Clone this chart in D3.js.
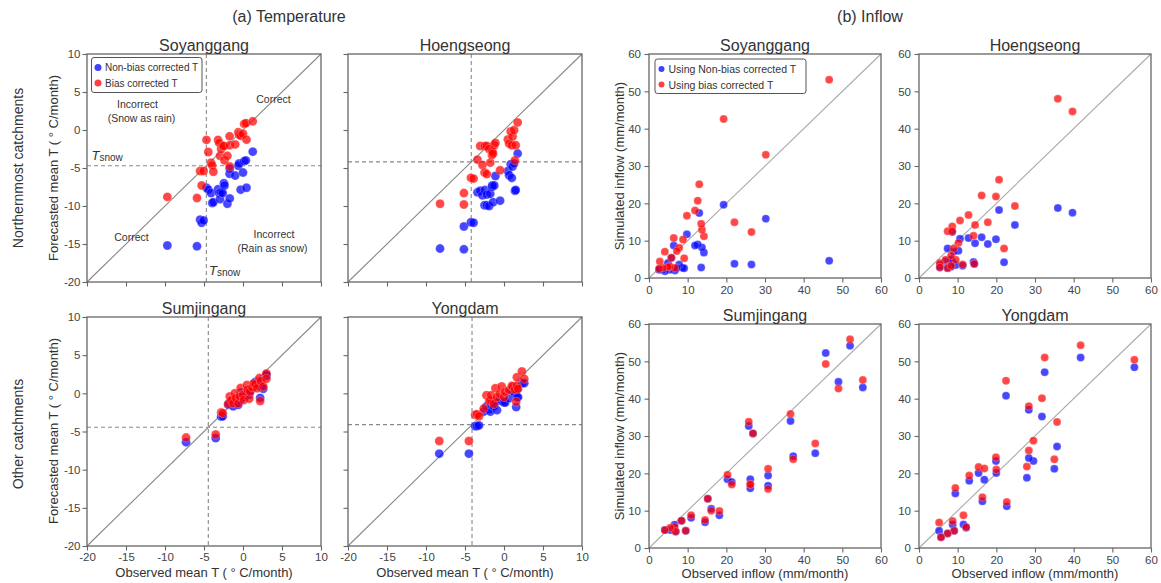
<!DOCTYPE html>
<html>
<head>
<meta charset="utf-8">
<script src="https://cdn.jsdelivr.net/npm/d3@7"></script>
<style>
  body { margin: 0; background: #fff; }
  svg text { font-family: "Liberation Sans", Arial, Helvetica, sans-serif; fill: #333; }
</style>
</head>
<body>
<svg id="fig" width="1161" height="583"></svg>
<script>
// ---- temperature data (observed, non-bias corrected, bias corrected) ----
var soyTObs = [-9.7,-5.9,-5.5,-5.3,-5.05,-4.68,-4.45,-4.1,-3.95,-3.8,-3.2,-3.05,-2.95,-2.8,-2.6,-2.45,-2.37,-2.0,-1.72,-1.7,-1.7,-1.0,-0.6,-0.5,-0.3,0.0,0.15,0.37,0.45,1.25];
var soyTRaw = [-15.2,-15.3,-11.8,-12.2,-11.9,-7.6,-7.85,-8.3,-9.6,-9.5,-7.8,-8.3,-9.1,-8.2,-8.3,-7.0,-7.3,-9.7,-5.75,-5.1,-9.0,-6.0,-4.7,-4.4,-7.85,-5.6,-4.1,-4.0,-7.6,-2.85];
var soyTCor = [-8.8,-8.95,-5.4,-7.3,-5.4,-1.3,-2.9,-4.3,-4.65,-5.5,-1.3,-1.7,-3.4,-2.5,-2.1,-2.1,-4.0,-3.4,-0.83,-4.8,-2.0,-1.9,-0.3,-0.6,-0.75,-0.5,0.8,0.9,-1.27,1.14];

var hoeTObs = [-8.2,-5.14,-5.14,-4.24,-3.9,-3.4,-3.05,-2.76,-2.5,-2.46,-2.2,-2.2,-1.9,-1.76,-1.55,-1.5,-1.4,-1.25,-1.1,-0.5,0.5,0.66,0.86,1.0,1.1,1.3,1.4,1.5,1.75];
var hoeTRaw = [-15.6,-15.7,-12.7,-12.15,-12.2,-8.2,-8.0,-8.6,-9.9,-7.9,-8.5,-9.9,-10.0,-8.4,-7.5,-7.3,-9.5,-7.3,-6.05,-9.3,-5.4,-5.95,-4.5,-6.3,-4.8,-4.4,-8.0,-7.9,-3.1];
var hoeTCor = [-9.7,-9.8,-8.3,-6.3,-6.4,-3.9,-2.1,-4.6,-5.6,-2.1,-5.8,-2.1,-2.5,-4.3,-3.3,-2.8,-3.1,-2.0,-1.7,-5.3,-1.25,-1.8,-0.2,-2.0,-0.85,0.0,-4.0,-2.0,1.0];

var sumTObs = [-7.3,-3.5,-2.8,-2.6,-1.9,-1.7,-1.5,-1.25,-1.05,-0.9,-0.6,-0.4,-0.3,0.0,0.1,0.5,0.6,0.8,0.9,1.2,1.4,1.6,1.8,2.1,2.2,2.3,2.6,3.0,3.0];
var sumTRaw = [-6.4,-5.85,-3.05,-3.0,-1.5,-1.2,-1.1,-1.7,-0.9,-1.3,-1.5,-0.9,0.1,-0.4,-0.5,0.0,0.3,-0.2,0.2,0.7,1.3,1.5,1.1,1.6,-0.6,0.9,0.6,2.3,2.4];
var sumTCor = [-5.8,-5.4,-2.5,-2.6,-1.4,-0.4,-0.9,-1.3,0.0,-0.6,-1.3,-0.4,0.7,-0.2,-0.87,1.1,0.5,-0.7,0.22,0.8,1.3,1.2,0.67,2.0,-1.0,1.6,0.9,2.6,1.9];

var yonTObs = [-8.3,-4.5,-3.7,-3.45,-3.2,-2.6,-2.25,-1.9,-1.75,-1.65,-1.3,-1.1,-0.9,-0.55,-0.3,0.0,0.15,0.66,1.0,1.1,1.4,1.56,1.65,1.65,1.8,2.3,2.6];
var yonTRaw = [-7.9,-7.9,-4.3,-4.3,-4.2,-2.4,-1.7,-2.1,-2.4,-1.5,-1.7,-1.2,-2.2,-0.86,-1.0,-1.2,-1.2,-0.65,0.45,0.3,0.0,-1.8,-0.5,0.5,-0.5,1.33,1.33];
var yonTCor = [-6.25,-6.25,-2.8,-2.75,-3.0,-2.0,-0.25,-1.0,-0.86,-0.25,-1.4,0.67,-0.5,-0.07,0.9,-0.5,0.2,0.45,0.98,0.9,0.5,-1.1,0.98,2.1,0.6,2.86,1.9];

// snow threshold temperature per catchment
var tSnow = [-4.7, -4.2, -4.45, -4.1];

// ---- inflow data (observed, using non-bias corrected T, using bias corrected T) ----
var soyQObs = [46.6,30.2,26.5,22.1,19.3,14.2,13.7,13.5,13.0,12.6,11.9,9.8,9.1,8.8,7.8,7.2,6.7,6.4,5.8,5.4,4.9,4.1,3.6,2.8,2.6];
var soyQRaw = [4.6,15.9,3.6,3.8,19.6,6.8,8.2,2.8,17.4,9.0,8.7,11.7,2.6,2.7,3.6,2.7,2.0,8.7,5.4,2.2,4.0,1.8,2.2,2.4,2.2];
var soyQCor = [53.1,33.0,12.3,14.9,42.6,11.2,12.9,14.5,25.1,20.7,18.1,16.7,5.3,10.3,8.1,7.2,2.7,10.7,5.4,3.1,3.0,7.05,2.7,4.4,2.5];

var hoeQObs = [35.9,39.7,20.7,24.8,16.2,19.9,12.8,10.6,17.8,14.5,22.0,7.4,8.6,8.6,10.2,9.0,14.1,9.5,11.3,14.3,6.9,8.3,5.4,5.4,7.4,8.3];
var hoeQRaw = [18.75,17.5,18.2,14.2,10.9,10.4,10.7,10.5,9.1,9.3,4.2,7.9,4.5,12.3,7.3,7.1,4.3,3.5,3.3,3.8,4.5,5.0,3.5,2.8,2.6,3.0];
var hoeQCor = [48.0,44.6,26.3,19.3,22.1,21.8,16.9,15.4,14.9,14.2,7.9,12.5,13.8,12.5,9.4,7.9,11.3,4.9,3.6,3.75,4.9,6.0,4.0,2.9,2.7,3.3];

var sumQObs = [52.0,45.7,49.0,55.3,36.6,43.0,37.3,25.8,26.9,30.8,30.8,26.2,26.2,20.3,21.4,15.2,16.1,18.2,10.9,14.5,8.4,9.5,6.6,6.9,5.5,4.1];
var sumQRaw = [54.2,52.2,44.5,43.0,34.0,25.4,24.6,32.7,30.7,19.4,16.7,18.4,16.0,18.4,17.7,13.2,10.5,8.75,8.1,6.9,7.3,4.6,6.25,4.4,4.8,4.8];
var sumQCor = [55.9,49.3,42.7,45.0,35.9,28.0,23.8,33.8,30.7,21.2,15.8,17.1,17.0,19.6,17.0,13.2,10.0,9.9,8.8,7.5,7.3,4.6,5.7,4.4,5.4,4.8];

var yonQObs = [41.8,55.7,32.5,22.5,28.4,31.8,35.7,29.6,28.4,27.9,35.0,19.9,20.0,15.4,16.9,13.0,9.4,16.4,22.7,11.5,12.2,5.2,8.7,9.1,7.4,5.7];
var yonQRaw = [51.0,48.4,47.1,40.8,37.0,35.2,27.2,23.3,24.1,18.8,21.2,23.3,20.1,20.1,18.3,18.0,14.6,12.5,11.2,6.3,5.4,4.6,6.3,4.6,3.9,2.9];
var yonQCor = [54.3,50.4,51.0,44.8,38.0,40.1,33.75,28.75,26.1,21.8,23.75,24.3,21.0,21.7,21.3,19.4,16.1,13.6,12.3,8.75,5.6,6.8,7.2,4.6,3.9,2.9];

var tempTicks = [-20, -15, -10, -5, 0, 5, 10];
var flowTicks = [0, 10, 20, 30, 40, 50, 60];

var svg = d3.select('#fig');
var BLUE = '#0000ff', RED = '#ff0000';

function drawPanel(o) {
  var x = d3.scaleLinear().domain(o.dom).range([o.x0, o.x1]);
  var y = d3.scaleLinear().domain(o.dom).range([o.y1, o.y0]);
  var g = svg.append('g');

  g.append('line')
    .attr('x1', x(o.dom[0])).attr('y1', y(o.dom[0]))
    .attr('x2', x(o.dom[1])).attr('y2', y(o.dom[1]))
    .attr('stroke', o.diag).attr('stroke-width', 1.1);

  if (o.ts != null) {
    g.append('line')
      .attr('x1', x(o.ts)).attr('x2', x(o.ts))
      .attr('y1', o.y0).attr('y2', o.y1)
      .attr('stroke', '#888').attr('stroke-width', 1.1)
      .attr('stroke-dasharray', '4,3');
    g.append('line')
      .attr('x1', o.x0).attr('x2', o.x1)
      .attr('y1', y(o.ts)).attr('y2', y(o.ts))
      .attr('stroke', '#888').attr('stroke-width', 1.1)
      .attr('stroke-dasharray', '4,3');
  }

  [[o.raw, BLUE], [o.cor, RED]].forEach(function (s) {
    g.append('g').selectAll('circle')
      .data(o.obs)
      .enter()
      .append('circle')
      .attr('cx', function (d) { return x(d); })
      .attr('cy', function (d, i) { return y(s[0][i]); })
      .attr('r', o.r)
      .attr('fill', s[1])
      .attr('fill-opacity', 0.72)
      .attr('stroke', '#fff')
      .attr('stroke-opacity', 0.5)
      .attr('stroke-width', 0.5);
  });

  var xa = d3.axisBottom(x).tickValues(o.ticks).tickSize(4.5).tickPadding(o.pad)
    .tickFormat(o.xLab ? function (d) { return String(d); } : '');
  var ya = d3.axisLeft(y).tickValues(o.ticks).tickSize(4.5).tickPadding(o.pad)
    .tickFormat(o.yLab ? function (d) { return String(d); } : '');

  var gx = g.append('g').attr('transform', 'translate(0,' + o.y1 + ')').call(xa);
  var gy = g.append('g').attr('transform', 'translate(' + o.x0 + ',0)').call(ya);
  [gx, gy].forEach(function (ax) {
    ax.select('.domain').remove();
    ax.selectAll('line').attr('stroke', '#666').attr('stroke-width', 1.1);
    ax.selectAll('text').attr('font-size', 11.5).style('fill', '#444')
      .attr('font-family', '"Liberation Sans", Arial, sans-serif');
  });

  g.append('rect')
    .attr('x', o.x0).attr('y', o.y0)
    .attr('width', o.x1 - o.x0).attr('height', o.y1 - o.y0)
    .attr('fill', 'none').attr('stroke', '#666').attr('stroke-width', 1.3);

  g.append('text')
    .attr('x', (o.x0 + o.x1) / 2).attr('y', o.y0 - 9)
    .attr('text-anchor', 'middle').attr('dominant-baseline', 'central')
    .attr('font-size', 16).text(o.title);

  return { x: x, y: y };
}

var tempCfg = { dom: [-20, 10], ticks: tempTicks, r: 4.5, diag: '#888', pad: 2 };
var flowCfg = { dom: [0, 60], ticks: flowTicks, r: 4, diag: '#aaa', pad: 3.5 };

var p1 = drawPanel(Object.assign({}, tempCfg, { x0: 87, x1: 321, y0: 54, y1: 282, title: 'Soyanggang',
  obs: soyTObs, raw: soyTRaw, cor: soyTCor, ts: tSnow[0], xLab: false, yLab: true }));
drawPanel(Object.assign({}, tempCfg, { x0: 348, x1: 582, y0: 54, y1: 282, title: 'Hoengseong',
  obs: hoeTObs, raw: hoeTRaw, cor: hoeTCor, ts: tSnow[1], xLab: false, yLab: false }));
drawPanel(Object.assign({}, tempCfg, { x0: 87, x1: 321, y0: 317, y1: 546, title: 'Sumjingang',
  obs: sumTObs, raw: sumTRaw, cor: sumTCor, ts: tSnow[2], xLab: true, yLab: true }));
drawPanel(Object.assign({}, tempCfg, { x0: 348, x1: 582, y0: 317, y1: 546, title: 'Yongdam',
  obs: yonTObs, raw: yonTRaw, cor: yonTCor, ts: tSnow[3], xLab: true, yLab: false }));

drawPanel(Object.assign({}, flowCfg, { x0: 649, x1: 881, y0: 54, y1: 278, title: 'Soyanggang',
  obs: soyQObs, raw: soyQRaw, cor: soyQCor, xLab: true, yLab: true }));
drawPanel(Object.assign({}, flowCfg, { x0: 919, x1: 1151, y0: 54, y1: 278, title: 'Hoengseong',
  obs: hoeQObs, raw: hoeQRaw, cor: hoeQCor, xLab: true, yLab: true }));
drawPanel(Object.assign({}, flowCfg, { x0: 649, x1: 881, y0: 324, y1: 548, title: 'Sumjingang',
  obs: sumQObs, raw: sumQRaw, cor: sumQCor, xLab: true, yLab: true }));
drawPanel(Object.assign({}, flowCfg, { x0: 919, x1: 1151, y0: 324, y1: 548, title: 'Yongdam',
  obs: yonQObs, raw: yonQRaw, cor: yonQCor, xLab: true, yLab: true }));

// ---- headings and axis labels ----
function label(x, y, txt, size, rot) {
  var t = svg.append('text')
    .attr('text-anchor', 'middle').attr('dominant-baseline', 'central')
    .attr('font-size', size).text(txt);
  if (rot) t.attr('transform', 'translate(' + x + ',' + y + ') rotate(-90)');
  else t.attr('x', x).attr('y', y);
  return t;
}

label(289, 16, '(a) Temperature', 16);
label(870, 16, '(b) Inflow', 16);
label(18, 168, 'Northernmost catchments', 14, true);
label(18, 434, 'Other catchments', 14, true);
label(53, 168, 'Forecasted mean T ( \u00b0 C/month)', 13, true);
label(53, 431, 'Forecasted mean T ( \u00b0 C/month)', 13, true);
label(204, 572, 'Observed mean T ( \u00b0 C/month)', 13);
label(465, 572, 'Observed mean T ( \u00b0 C/month)', 13);
label(619, 166, 'Simulated inflow (mm/month)', 13, true);
label(619, 436, 'Simulated inflow (mm/month)', 13, true);
label(765, 573, 'Observed inflow (mm/month)', 13);
label(1035, 573, 'Observed inflow (mm/month)', 13);

// ---- legends ----
function legend(x, y, w, h, r, fs, names) {
  var g = svg.append('g');
  g.append('rect').attr('x', x).attr('y', y).attr('width', w).attr('height', h)
    .attr('rx', 2.5).attr('fill', '#fff').attr('stroke', '#555').attr('stroke-width', 1);
  [BLUE, RED].forEach(function (c, i) {
    var cy = y + 10 + i * 15.5;
    g.append('circle').attr('cx', x + 6.5).attr('cy', cy).attr('r', r)
      .attr('fill', c).attr('fill-opacity', 0.75);
    g.append('text').attr('x', x + 13.5).attr('y', cy).attr('dominant-baseline', 'central')
      .attr('font-size', fs).text(names[i]);
  });
}
legend(91.5, 57.5, 110.5, 35, 3.5, 10, ['Non-bias corrected T', 'Bias corrected T']);
legend(655, 59, 151, 34.5, 3, 10.5, ['Using Non-bias corrected T', 'Using bias corrected T']);

// ---- annotations in Soyanggang temperature panel ----
[['Incorrect', 137.5, 104], ['(Snow as rain)', 141.5, 117.5], ['Correct', 273.5, 98.5],
 ['Correct', 131.5, 236.5], ['Incorrect', 274, 234], ['(Rain as snow)', 272.5, 247.5]]
  .forEach(function (a) { label(a[1], a[2], a[0], 10.5); });

function tsnowLabel(x, y) {
  var t = svg.append('text').attr('x', x).attr('y', y).attr('font-size', 13);
  t.append('tspan').attr('font-style', 'italic').text('T');
  t.append('tspan').attr('font-size', 10).attr('dy', 1).text('snow');
}
tsnowLabel(91.5, 159.5);
tsnowLabel(209, 274.5);
</script>
</body>
</html>
